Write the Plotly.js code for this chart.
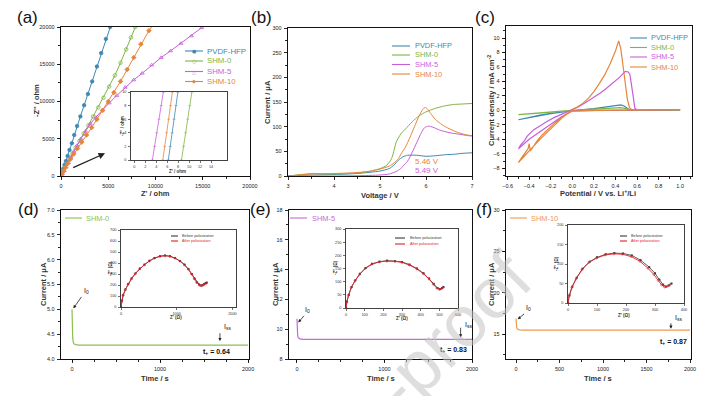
<!DOCTYPE html>
<html><head><meta charset="utf-8">
<script src="https://cdn.plot.ly/plotly-3.0.1.min.js"></script>
<style>html,body{margin:0;padding:0;background:#fff}#chart{width:719px;height:396px}</style>
</head><body><div id="chart"></div>
<script>
const W=719,H=396;
const seriesNames=['PVDF-HFP','SHM-0','SHM-5','SHM-10'];
const seriesColors=['#3f88b3','#7fb545','#c65fd8','#e6853a'];

// (a) Nyquist, main
const a_pvdf_x=[0,60,150,250,380,520,700,900,1150,1400,1700,2050,2450,2850,3300,3800,4250,4750,5200,5350];
const a_pvdf_y=[0,250,600,1000,1500,2000,2700,3500,4400,5500,6700,8000,9500,11000,12700,14700,16500,18400,20000,20500];
const a_shm0_x=[0,100,250,450,650,900,1200,1550,1950,2400,2900,3400,3950,4500,5100,5700,6300,6900,7400,7850,8000];
const a_shm0_y=[0,300,700,1200,1700,2300,3000,3800,4700,5700,6800,8000,9200,10500,12000,13500,15200,17000,18600,20000,20400];
const a_shm5_x=[0,150,350,550,780,1050,1350,1700,2100,2600,3100,3700,4400,5100,5900,6800,7700,8600,9600,10600,11600,12700,13800,14900,15300];
const a_shm5_y=[0,300,700,1200,1800,2500,3300,4100,5000,6000,7000,7900,8900,9800,10800,11900,12900,13800,14900,15900,16800,17800,18800,19900,20300];
const a_shm10_x=[0,100,250,450,700,1000,1350,1750,2200,2700,3250,3800,4400,5000,5600,6300,7000,7700,8450,9300,9800];
const a_shm10_y=[0,280,650,1100,1650,2250,2950,3700,4550,5500,6500,7600,8800,10000,11200,12700,14300,15900,17700,19500,20400];
// (a) inset
const ia_y=[0,2,4,6,8,10];
const ia_pvdf_x=[6.2,6.55,6.9,7.25,7.6,7.95];
const ia_shm0_x=[8.6,8.98,9.35,9.75,10.1,10.5];
const ia_shm5_x=[3.3,3.7,4.1,4.5,4.9,5.3];
const ia_shm10_x=[5.2,5.55,5.9,6.25,6.6,6.95];

// (b) LSV
const b_pvdf_v=[3,3.5,4,4.5,5,5.2,5.3,5.4,5.5,5.6,5.8,6,6.2,6.4,6.6,6.8,7];
const b_pvdf_i=[0.5,2,3,5,10,15,22,32,39,42,42,40,41,43,44,46,47];
const b_shm0_v=[3,3.3,3.5,4,4.5,4.8,5,5.15,5.25,5.3,5.35,5.45,5.55,5.7,5.85,6,6.2,6.4,6.6,6.8,7];
const b_shm0_i=[0,3,5,4,6,10,15,22,35,50,68,85,95,110,122,130,137,142,145,146,147];
const b_shm5_v=[3,4,4.5,5,5.2,5.35,5.45,5.5,5.6,5.7,5.8,5.9,5.97,6.05,6.15,6.3,6.5,6.7,6.9,7];
const b_shm5_i=[0,0,0.5,2,4,9,15,20,30,48,68,88,98,101,99,93,88,85,82,81];
const b_shm10_v=[3,3.5,4,4.5,4.8,5,5.2,5.3,5.4,5.46,5.55,5.65,5.75,5.85,5.93,5.98,6.03,6.1,6.2,6.35,6.5,6.7,6.9,7];
const b_shm10_i=[0,4,5,7,10,14,20,26,35,45,58,78,100,122,135,139,136,127,115,104,96,88,83,82];
const b_onset_labels=['5.46 V','5.49 V'];

// (c) CV
const c_pvdf_v=[-0.5,-0.4,-0.3,-0.2,-0.1,0,0.1,0.2,0.3,0.4,0.45,0.48,0.51,0.53,0.6,1.0,0.5,0,-0.2,-0.4,-0.5];
const c_pvdf_i=[-1.3,-0.95,-0.65,-0.4,-0.2,0,0.1,0.25,0.45,0.7,0.75,0.6,0.3,0.1,0.02,0.05,0,-0.05,-0.45,-1.0,-1.3];
const c_shm0_v=[-0.5,-0.4,-0.3,-0.2,-0.1,0,0.1,0.2,0.3,0.4,0.45,0.5,0.53,0.6,1.0,0.5,0,-0.25,-0.5];
const c_shm0_i=[-0.6,-0.45,-0.32,-0.2,-0.1,0,0.08,0.15,0.25,0.35,0.38,0.25,0.08,0.02,0.03,0,-0.02,-0.3,-0.6];
const c_shm5_v=[-0.5,-0.48,-0.44,-0.42,-0.36,-0.3,-0.235,-0.17,-0.11,-0.05,0,0.05,0.135,0.2,0.26,0.32,0.38,0.44,0.49,0.52,0.535,0.55,0.565,0.58,0.6,1.0,0.5,0,-0.1,-0.2,-0.3,-0.4,-0.5];
const c_shm5_i=[-5.3,-4.8,-4.1,-3.6,-2.7,-2.1,-1.55,-1.0,-0.6,-0.25,0.05,0.45,1.2,1.8,2.4,3.1,3.8,4.6,5.4,5.3,4.9,3.6,1.9,0.3,0.05,0.1,0.02,-0.05,-0.9,-1.9,-2.9,-4.0,-5.3];
const c_shm10_v=[-0.5,-0.47,-0.44,-0.41,-0.4,-0.39,-0.37,-0.33,-0.28,-0.22,-0.16,-0.1,-0.05,0,0.05,0.1,0.15,0.2,0.25,0.3,0.35,0.4,0.43,0.45,0.47,0.49,0.51,0.53,0.55,0.6,0.8,1.0,0.8,0.5,0.2,0,-0.05,-0.1,-0.15,-0.2,-0.25,-0.3,-0.35,-0.4,-0.45,-0.5];
const c_shm10_i=[-7.2,-6.6,-6.0,-5.3,-4.6,-5.6,-5.2,-4.3,-3.4,-2.5,-1.7,-1.0,-0.4,0.1,0.5,1.0,1.7,2.6,3.7,4.9,6.4,8.2,9.6,8.5,6.2,3.8,1.6,0.4,0.1,0.05,0.05,0.1,0.05,0.02,0,-0.1,-0.5,-1.1,-1.8,-2.5,-3.3,-4.0,-4.8,-5.6,-6.4,-7.2];

// (d)(e)(f) polarization
const d_time=[0,3,8,15,25,40,80,300,600,1000,1500,2000];
const d_current=[5.0,4.62,4.42,4.33,4.3,4.29,4.28,4.28,4.28,4.28,4.28,4.28];
const e_time=[0,3,8,15,25,40,80,300,1000,2000];
const e_current=[10.7,10.0,9.6,9.42,9.36,9.33,9.32,9.32,9.32,9.32];
const f_time=[0,3,8,15,25,40,80,300,1000,2000];
const f_current=[16.9,16.2,15.8,15.62,15.55,15.52,15.5,15.5,15.5,15.5];
const polNames=['SHM-0','SHM-5','SHM-10'];
const polColors=['#8cbf4f','#c56ad8','#ec9a50'];
const tNumbers=['0.64','0.83','0.87'];

// insets: EIS before/after polarization
const id_before_x=[0,15,40,80,130,190,260,340,420,510,600,700,790,880,970,1060,1140,1210,1270,1320,1360,1400,1430,1460,1490,1520,1540];
const id_before_y=[0,60,110,160,210,260,305,350,385,420,445,462,468,462,445,418,385,345,300,258,225,205,196,198,208,218,222];
const id_after_x=[0,12,35,75,125,185,255,335,420,510,600,700,790,880,970,1060,1140,1210,1270,1320,1365,1405,1440,1470,1500,1530];
const id_after_y=[0,55,105,155,205,255,302,347,383,418,443,460,466,460,444,417,383,343,298,255,220,200,193,197,206,215];
const ie_before_x=[0,5,15,30,50,75,105,140,180,220,262,300,340,380,415,445,470,490,505,515,522];
const ie_before_y=[0,25,50,80,105,130,152,168,176,180,178,175,165,150,132,112,92,76,72,76,80];
const ie_after_x=[0,4,13,28,48,73,103,138,178,220,262,300,340,380,415,445,468,487,500,512,520];
const ie_after_y=[0,22,48,78,103,128,150,166,175,178,177,173,163,148,130,110,90,75,70,73,78];
const if_before_x=[0,5,15,30,50,75,100,130,160,190,220,250,280,300,315,328,338,348,357];
const if_before_y=[0,20,42,65,88,106,117,125,128,127,122,110,92,76,60,47,42,45,50];
const if_after_x=[0,4,13,28,48,72,98,128,158,188,218,248,276,296,311,323,333,343,352];
const if_after_y=[0,18,40,62,85,104,115,123,126,125,119,107,89,73,58,46,41,43,47];
const insetNames=['Before polarization','After polarization'];
const insetColors=['#3a3a3a','#e0202a'];

// ---------- layout helpers ----------
const FONT='Liberation Sans, Arial, sans-serif';
const dx=(a,b)=>[a/W,b/W];
const dy=(a,b)=>[1-b/H,1-a/H];
const PX=x=>x/W, PY=y=>1-y/H;
function axis(domain,range,extra){
  return Object.assign({domain,range,showline:true,linecolor:'#111',linewidth:1.3,mirror:true,
    ticks:'outside',ticklen:3,tickwidth:0.9,tickcolor:'#111',showgrid:false,zeroline:false,
    exponentformat:'none',separatethousands:false,
    tickfont:{family:FONT,size:5.5,color:'#222'},fixedrange:true,ticklabelstandoff:1},extra);
}
function iaxis(domain,range,extra){
  return Object.assign(axis(domain,range,{linewidth:0.8,ticklen:2,tickwidth:0.6,tickfont:{family:FONT,size:3.8,color:'#333'}}),extra);
}
const traces=[];
function line(x,y,xa,ya,color,extra){traces.push(Object.assign({x,y,xaxis:xa,yaxis:ya,type:'scatter',mode:'lines',line:{color,width:1.1},hoverinfo:'skip'},extra||{}));}

// (a)
const aSym=['circle','circle-open','triangle-up-open','diamond'];
const aX=[a_pvdf_x,a_shm0_x,a_shm5_x,a_shm10_x], aY=[a_pvdf_y,a_shm0_y,a_shm5_y,a_shm10_y];
for(let i=0;i<4;i++) line(aX[i],aY[i],'x','y',seriesColors[i],{mode:'lines+markers',marker:{symbol:aSym[i],size:3.5,color:seriesColors[i],line:{width:0.8,color:seriesColors[i]}},line:{color:seriesColors[i],width:1}});
const iaX=[ia_pvdf_x,ia_shm0_x,ia_shm5_x,ia_shm10_x];
for(let i=0;i<4;i++) line(iaX[i],ia_y,'x7','y7',seriesColors[i],{mode:'lines+markers',marker:{symbol:'line-ew',size:2,line:{width:0.6,color:seriesColors[i]}},line:{color:seriesColors[i],width:0.8}});
// (b)
const bV=[b_pvdf_v,b_shm0_v,b_shm5_v,b_shm10_v], bI=[b_pvdf_i,b_shm0_i,b_shm5_i,b_shm10_i];
for(let i=0;i<4;i++) line(bV[i],bI[i],'x2','y2',seriesColors[i],{line:{color:seriesColors[i],width:1,shape:'spline',smoothing:0.6}});
// (c)
const cV=[c_pvdf_v,c_shm0_v,c_shm5_v,c_shm10_v], cI=[c_pvdf_i,c_shm0_i,c_shm5_i,c_shm10_i];
for(let i=0;i<4;i++) line(cV[i],cI[i],'x3','y3',seriesColors[i],{line:{color:seriesColors[i],width:1.2}});
// (d)(e)(f)
line(d_time,d_current,'x4','y4',polColors[0],{line:{color:polColors[0],width:1.2}});
line(e_time,e_current,'x5','y5',polColors[1],{line:{color:polColors[1],width:1.2}});
line(f_time,f_current,'x6','y6',polColors[2],{line:{color:polColors[2],width:1.2}});
// insets d e f
const insetSets=[[id_before_x,id_before_y,id_after_x,id_after_y,'x8','y8'],[ie_before_x,ie_before_y,ie_after_x,ie_after_y,'x9','y9'],[if_before_x,if_before_y,if_after_x,if_after_y,'x10','y10']];
insetSets.forEach(s=>{
  line(s[0],s[1],s[4],s[5],insetColors[0],{mode:'lines+markers',line:{color:insetColors[0],width:0.8},marker:{symbol:'square',size:2,color:insetColors[0]}});
  line(s[2],s[3],s[4],s[5],insetColors[1],{mode:'lines+markers',line:{color:insetColors[1],width:0.9},marker:{symbol:'circle-open',size:2,color:insetColors[1],line:{width:0.5,color:insetColors[1]}}});
});

const layout={width:W,height:H,margin:{l:0,r:0,t:0,b:0},paper_bgcolor:'#fff',plot_bgcolor:'#fff',showlegend:false,
  xaxis:axis(dx(61,250),[0,20000],{anchor:'y',tickvals:[0,5000,10000,15000,20000],tickformat:'d',minor:{ticks:'outside',ticklen:1.8,dtick:2500,tickcolor:'#111'}}),
  yaxis:axis(dy(27,176),[0,20000],{anchor:'x',tickvals:[0,5000,10000,15000,20000],tickformat:'d',minor:{ticks:'outside',ticklen:1.8,dtick:2500,tickcolor:'#111'}}),
  xaxis2:axis(dx(288,472),[3,7],{anchor:'y2',dtick:1,minor:{ticks:'outside',ticklen:1.8,dtick:0.5,tickcolor:'#111'}}),
  yaxis2:axis(dy(28,176),[0,300],{anchor:'x2',dtick:50,minor:{ticks:'outside',ticklen:1.8,dtick:25,tickcolor:'#111'}}),
  xaxis3:axis(dx(506,692),[-0.615,1.11],{anchor:'y3',tickvals:[-0.6,-0.4,-0.2,0,0.2,0.4,0.6,0.8,1.0],tickformat:'.1f',minor:{ticks:'outside',ticklen:1.8,dtick:0.1,tickcolor:'#111'}}),
  yaxis3:axis(dy(26,176),[-9.07,11.66],{anchor:'x3',tickvals:[-8,-6,-4,-2,0,2,4,6,8,10],minor:{ticks:'outside',ticklen:1.8,dtick:1,tickcolor:'#111'}}),
  xaxis4:axis(dx(61,249),[-125,2010],{anchor:'y4',tickvals:[0,1000,2000],tickformat:'d',minor:{ticks:'outside',ticklen:1.8,dtick:250,tickcolor:'#111'}}),
  yaxis4:axis(dy(210,359),[4,7],{anchor:'x4',dtick:0.5,tickformat:'.1f',minor:{ticks:'outside',ticklen:1.8,dtick:0.25,tickcolor:'#111'}}),
  xaxis5:axis(dx(289,472),[-91,2000],{anchor:'y5',tickvals:[0,1000,2000],tickformat:'d',minor:{ticks:'outside',ticklen:1.8,dtick:250,tickcolor:'#111'}}),
  yaxis5:axis(dy(210,359),[8,18],{anchor:'x5',dtick:2,minor:{ticks:'outside',ticklen:1.8,dtick:1,tickcolor:'#111'}}),
  xaxis6:axis(dx(506,691),[-115,2011],{anchor:'y6',dtick:500,tickformat:'d',minor:{ticks:'outside',ticklen:1.8,dtick:250,tickcolor:'#111'}}),
  yaxis6:axis(dy(210,359),[12,30],{anchor:'x6',tickvals:[15,20,25,30],minor:{ticks:'outside',ticklen:1.8,dtick:2.5,tickcolor:'#111'}}),
  xaxis7:iaxis(dx(131,227),[-0.6,16.9],{anchor:'y7',tickvals:[0,2,4,6,8,10,12,14]}),
  yaxis7:iaxis(dy(92,160),[0,10],{anchor:'x7',dtick:2}),
  xaxis8:iaxis(dx(121,236),[0,2065],{anchor:'y8',tickvals:[0,1000,2000],tickformat:'d'}),
  yaxis8:iaxis(dy(230,307),[0,700],{anchor:'x8',dtick:100}),
  xaxis9:iaxis(dx(346,458),[0,600],{anchor:'y9',dtick:100}),
  yaxis9:iaxis(dy(229,308),[0,300],{anchor:'x9',dtick:50}),
  xaxis10:iaxis(dx(568,684),[0,400],{anchor:'y10',dtick:100}),
  yaxis10:iaxis(dy(225,303),[0,200],{anchor:'x10',dtick:50}),
  annotations:[],shapes:[]
};
const A=layout.annotations, S=layout.shapes;
function txt(x,y,text,size,extra,fontExtra){A.push(Object.assign({xref:'paper',yref:'paper',x:PX(x),y:PY(y),text,showarrow:false,xanchor:'center',yanchor:'middle',
  font:Object.assign({family:FONT,size:size,color:'#222'},fontExtra||{})},extra||{}));}
function hline(x0,x1,y,color,w){S.push({type:'line',xref:'paper',yref:'paper',x0:PX(x0),x1:PX(x1),y0:PY(y),y1:PY(y),line:{color,width:w||1.2},layer:'above'});}

// panel labels
[['(a)',27,18],['(b)',261,18],['(c)',485,18],['(d)',28,209],['(e)',260,209],['(f)',484,209]].forEach(p=>txt(p[1],p[2],p[0],17,{},{color:'#111'}));
// axis titles
const bold={weight:'bold',color:'#333'};
txt(155,194,"Z' / ohm",7.5,{},bold); txt(37,101,"-Z'' / ohm",7.5,{textangle:-90},bold);
txt(380,195,'Voltage / V',7.5,{},bold); txt(267,102,'Current / μA',7.5,{textangle:-90},bold);
txt(598,193,'Potential / V vs. Li<sup>+</sup>/Li',7.5,{},bold); txt(491,101,'Current density / mA cm<sup>-2</sup>',7.5,{textangle:-90},bold);
txt(155,378,'Time / s',7.5,{},bold); txt(43,284,'Current / μA',7.5,{textangle:-90},bold);
txt(381,378,'Time / s',7.5,{},bold); txt(275,284,'Current / μA',7.5,{textangle:-90},bold);
txt(598,378,'Time / s',7.5,{},bold); txt(491,284,'Current / μA',7.5,{textangle:-90},bold);
// inset titles
txt(177,171,"Z' / ohm",4.5,{},bold); txt(123,126,"-Z'' / ohm",4.5,{textangle:-90},bold);
txt(176,317,"Z' (Ω)",4.5,{},bold); txt(110,268,"-Z'' (Ω)",4.5,{textangle:-90},bold);
txt(402,318,"Z' (Ω)",4.5,{},bold); txt(335,268,"-Z'' (Ω)",4.5,{textangle:-90},bold);
txt(624,315,"Z' (Ω)",4.5,{},bold); txt(556,264,"-Z'' (Ω)",4.5,{textangle:-90},bold);

// legends
function legend(x0,x1,xt,rows,names,colors,size,chars){
  rows.forEach((r,i)=>{hline(x0,x1,r,colors[i],1.1);
    if(chars) txt((x0+x1)/2,r,chars[i],5,{},{family:'DejaVu Sans',color:colors[i]});
    txt(xt,r,names[i],size,{xanchor:'left'},{color:colors[i]});});
}
legend(185,203,205,[51,61,71.5,81.5],seriesNames,seriesColors,7.8,['●','○','△','◆']);
legend(392,410,413,[46,55,64.5,74],seriesNames,seriesColors,7.4);
legend(630,647,649,[38,47.5,57,67],seriesNames,seriesColors,7.4);
legend(65,82,84,[218],[polNames[0]],[polColors[0]],7.4);
legend(290,307,310,[218],[polNames[1]],[polColors[1]],7.4);
legend(510,527,529,[218],[polNames[2]],[polColors[2]],7.4);
legend(171,178,180,[236,241],insetNames,insetColors,3.8);
legend(395,405,408,[238,244],insetNames,insetColors,3.8);
legend(620,627,629,[236,241],insetNames,insetColors,3.8);

// (a) arrow
A.push({xref:'x',yref:'y',axref:'x',ayref:'y',x:4660,y:3050,ax:1130,ay:1030,text:'',showarrow:true,arrowhead:2,arrowsize:1,arrowwidth:1.3,arrowcolor:'#222'});
// (b) onset labels
A.push({xref:'x2',yref:'y2',x:5.72,y:29,text:b_onset_labels[0],showarrow:false,xanchor:'left',font:{family:FONT,size:8,color:seriesColors[3]}});
A.push({xref:'x2',yref:'y2',x:5.72,y:12,text:b_onset_labels[1],showarrow:false,xanchor:'left',font:{family:FONT,size:8,color:seriesColors[2]}});
// (d)(e)(f) I0, Iss, t+
function pol(xa,ya,i0,iss,tp,tnum){
  const f={family:FONT,size:7,color:'#111'};
  A.push({xref:xa,yref:ya,axref:xa,ayref:ya,x:i0[0],y:i0[1],ax:i0[2],ay:i0[3],text:'',showarrow:true,arrowhead:2,arrowsize:0.8,arrowwidth:0.8,arrowcolor:'#222'});
  A.push({xref:xa,yref:ya,x:i0[4],y:i0[5],text:'I<sub>0</sub>',showarrow:false,font:f});
  A.push({xref:xa,yref:ya,axref:xa,ayref:ya,x:iss[0],y:iss[1],ax:iss[0],ay:iss[2],text:'',showarrow:true,arrowhead:2,arrowsize:0.8,arrowwidth:0.8,arrowcolor:'#222'});
  A.push({xref:xa,yref:ya,x:iss[0]+25,y:iss[3],text:'I<sub>ss</sub>',showarrow:false,xanchor:'left',font:f});
  A.push({xref:xa,yref:ya,x:tp[0],y:tp[1],text:'t<sub>+</sub> = '+tnum,showarrow:false,xanchor:'left',font:Object.assign({},f,{weight:'bold'})});
}
pol('x4','y4',[15,5.02,120,5.28,165,5.36],[1680,4.36,4.55,4.65],[1470,4.14],tNumbers[0]);
pol('x5','y5',[15,10.45,95,11.0,120,11.3],[1870,9.45,10.2,10.3],[1610,8.6],tNumbers[1]);
pol('x6','y6',[20,16.8,110,17.6,140,18.2],[1780,15.65,16.5,17.0],[1630,14.1],tNumbers[2]);

// watermark
A.push({xref:'paper',yref:'paper',x:PX(412),y:PY(372),text:'Pre-proof',showarrow:false,textangle:-45,xanchor:'center',yanchor:'middle',font:{family:FONT,size:72,color:'rgba(195,195,195,0.55)'}});

Plotly.newPlot('chart',traces,layout,{staticPlot:true,displayModeBar:false});
</script></body></html>
